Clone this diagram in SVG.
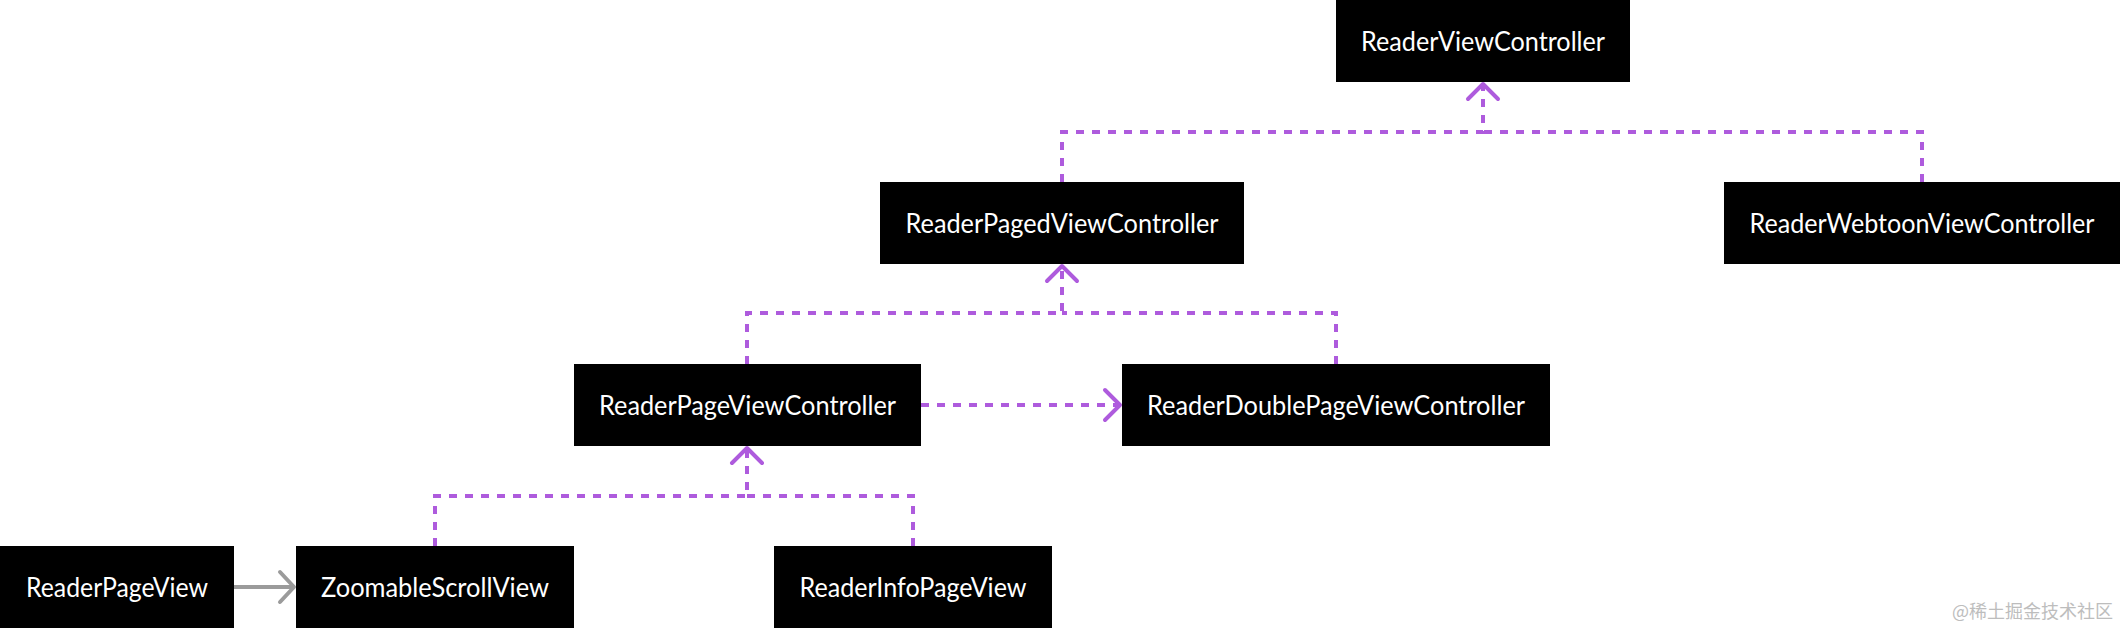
<svg xmlns="http://www.w3.org/2000/svg" width="2120" height="628" viewBox="0 0 2120 628">
<style>
.box{fill:#000}
.lbl{fill:#fff;font-family:Lato,"Noto Sans","Liberation Sans",sans-serif;font-size:26px;text-anchor:middle}
.dash{fill:none;stroke:#AE5BDD;stroke-width:4;stroke-dasharray:8 8}
.solid{fill:none;stroke:#9B9B9B;stroke-width:4}
.wm{fill:#BDBDBD;font-family:"Noto Sans CJK SC","Noto Sans",sans-serif;font-size:18px;text-anchor:end}
</style>
<defs>
<marker id="pa" markerUnits="userSpaceOnUse" markerWidth="40" markerHeight="40" viewBox="-20 -20 40 40" refX="0" refY="0" orient="auto">
<path d="M-15,-15 L0,0 L-15,15" fill="none" stroke="#AE5BDD" stroke-width="4" stroke-linecap="round" stroke-linejoin="round"/>
</marker>
<marker id="ga" markerUnits="userSpaceOnUse" markerWidth="40" markerHeight="40" viewBox="-20 -20 40 40" refX="0" refY="0" orient="auto">
<path d="M-14,-15 L0,0 L-14,15" fill="none" stroke="#9B9B9B" stroke-width="4" stroke-linecap="round" stroke-linejoin="round"/>
</marker>
</defs>
<g id="connectors">
<path class="dash" d="M1062,182 V132 H1483 V84" marker-end="url(#pa)"/>
<path class="dash" d="M1922,182 V132 H1483"/>
<path class="dash" d="M747,364 V313 H1062 V266" marker-end="url(#pa)"/>
<path class="dash" d="M1336,364 V313 H1062"/>
<path class="dash" d="M921,405 H1120" marker-end="url(#pa)"/>
<path class="dash" d="M435,546 V496 H747 V448" marker-end="url(#pa)"/>
<path class="dash" d="M913,546 V496 H747"/>
<path class="solid" d="M234,587 H294" marker-end="url(#ga)"/>
</g>
<g id="ReaderViewController"><rect class="box" x="1336" y="0" width="294" height="82"/><text class="lbl" x="1483" y="51" textLength="244" lengthAdjust="spacingAndGlyphs">ReaderViewController</text></g>
<g id="ReaderPagedViewController"><rect class="box" x="880" y="182" width="364" height="82"/><text class="lbl" x="1062" y="233" textLength="313" lengthAdjust="spacingAndGlyphs">ReaderPagedViewController</text></g>
<g id="ReaderWebtoonViewController"><rect class="box" x="1724" y="182" width="396" height="82"/><text class="lbl" x="1922" y="233" textLength="345" lengthAdjust="spacingAndGlyphs">ReaderWebtoonViewController</text></g>
<g id="ReaderPageViewController"><rect class="box" x="574" y="364" width="347" height="82"/><text class="lbl" x="747.5" y="415" textLength="297" lengthAdjust="spacingAndGlyphs">ReaderPageViewController</text></g>
<g id="ReaderDoublePageViewController"><rect class="box" x="1122" y="364" width="428" height="82"/><text class="lbl" x="1336" y="415" textLength="378" lengthAdjust="spacingAndGlyphs">ReaderDoublePageViewController</text></g>
<g id="ReaderPageView"><rect class="box" x="0" y="546" width="234" height="82"/><text class="lbl" x="117" y="597" textLength="182" lengthAdjust="spacingAndGlyphs">ReaderPageView</text></g>
<g id="ZoomableScrollView"><rect class="box" x="296" y="546" width="278" height="82"/><text class="lbl" x="435" y="597" textLength="228" lengthAdjust="spacingAndGlyphs">ZoomableScrollView</text></g>
<g id="ReaderInfoPageView"><rect class="box" x="774" y="546" width="278" height="82"/><text class="lbl" x="913" y="597" textLength="227" lengthAdjust="spacingAndGlyphs">ReaderInfoPageView</text></g>
<text class="wm" x="2113" y="618">@稀土掘金技术社区</text>
</svg>
